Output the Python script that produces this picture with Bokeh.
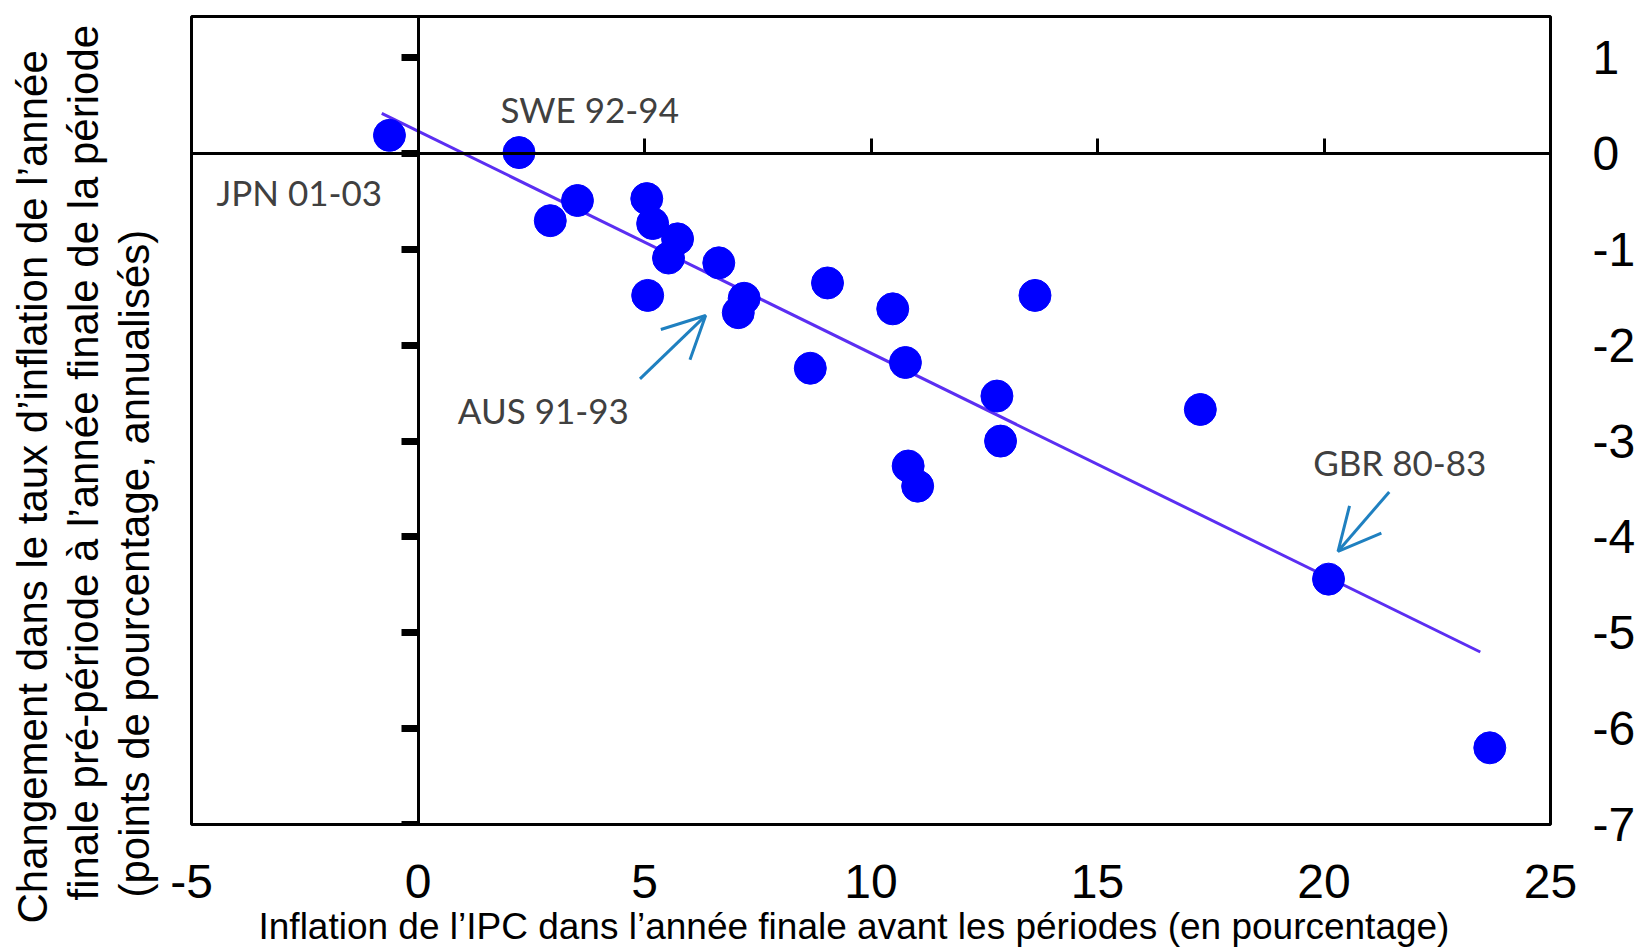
from bokeh.plotting import figure
from bokeh.models import LinearAxis, FixedTicker, Arrow, OpenHead, Title, ColumnDataSource, Range1d
from bokeh.core.properties import value
from bokeh.embed import file_html
from bokeh.resources import INLINE

# ---- data ----
x_infl = [-0.63, 2.23, 2.92, 3.52, 5.05, 5.18, 5.73, 5.53, 6.64, 5.07, 7.20, 7.07,
          9.04, 10.48, 8.66, 10.76, 13.62, 12.78, 12.86, 10.82, 11.03, 17.27, 20.10, 23.66]
y_change = [0.19, 0.01, -0.70, -0.49, -0.47, -0.73, -0.89, -1.09, -1.14, -1.48, -1.51, -1.66,
            -1.35, -1.62, -2.24, -2.18, -1.48, -2.53, -3.00, -3.26, -3.47, -2.67, -4.44, -6.20]
trend_x = [-0.80, 23.45]
trend_y = [0.42, -5.20]
x_ticks = [-5, 0, 5, 10, 15, 20, 25]
y_ticks = [1, 0, -1, -2, -3, -4, -5, -6, -7]
ann_text = ["SWE 92-94", "JPN 01-03", "AUS 91-93", "GBR 80-83"]
ann_x = [1.82, -4.45, 0.88, 19.76]
ann_y = [0.47, -0.40, -2.68, -3.22]
arrow_x0 = [4.90, 21.44]
arrow_y0 = [-2.35, -3.53]
arrow_x1 = [6.35, 20.31]
arrow_y1 = [-1.69, -4.15]
x_title = "Inflation de l\u2019IPC dans l\u2019ann\u00e9e finale avant les p\u00e9riodes (en pourcentage)"
y_title_lines = ["Changement dans le taux d\u2019inflation de l\u2019ann\u00e9e",
                 "finale pr\u00e9-p\u00e9riode \u00e0 l\u2019ann\u00e9e finale de la p\u00e9riode",
                 "(points de pourcentage, annualis\u00e9s)"]

ARIAL = "Liberation Sans"

p = figure(width=1640, height=949, x_range=Range1d(-5, 25), y_range=Range1d(-7, 1.43),
           output_backend="svg", toolbar_location=None, y_axis_location="right",
           min_border_left=191, min_border_right=90, min_border_top=16, min_border_bottom=125)
p.grid.visible = False
p.outline_line_color = "black"
p.outline_line_width = 3
p.background_fill_color = "white"
p.border_fill_color = "white"

# bottom axis: labels only
xa = p.xaxis[0]
xa.ticker = FixedTicker(ticks=x_ticks)
xa.major_label_overrides = {t: str(t) for t in x_ticks}
xa.axis_line_color = None
xa.major_tick_line_color = None
xa.major_tick_out = 0
xa.major_tick_in = 0
xa.minor_tick_line_color = None
xa.minor_tick_out = 0
xa.major_label_text_font = ARIAL
xa.major_label_text_font_size = "48px"
xa.major_label_text_color = "black"
xa.major_label_standoff = 40

# right axis: labels only
ya = p.yaxis[0]
ya.ticker = FixedTicker(ticks=y_ticks)
ya.major_label_overrides = {t: str(t) for t in y_ticks}
ya.axis_line_color = None
ya.major_tick_line_color = None
ya.major_tick_out = 0
ya.major_tick_in = 0
ya.minor_tick_line_color = None
ya.minor_tick_out = 0
ya.major_label_text_font = ARIAL
ya.major_label_text_font_size = "48px"
ya.major_label_text_color = "black"
ya.major_label_standoff = 42

# zero axes crossing inside the plot
x0_axis = LinearAxis(fixed_location=0, ticker=FixedTicker(ticks=x_ticks),
                     major_tick_in=15, major_tick_out=0, major_tick_line_width=3,
                     axis_line_width=3, minor_tick_line_color=None, minor_tick_out=0,
                     major_label_overrides={t: "" for t in x_ticks},
                     major_label_text_color=None, major_label_text_font_size="10px",
                     major_label_standoff=0)
p.add_layout(x0_axis, "below")
y0_axis = LinearAxis(fixed_location=0, ticker=FixedTicker(ticks=y_ticks),
                     major_tick_in=0, major_tick_out=17, major_tick_line_width=7,
                     axis_line_width=3, minor_tick_line_color=None, minor_tick_out=0,
                     major_label_overrides={t: "" for t in y_ticks},
                     major_label_text_color=None, major_label_text_font_size="10px",
                     major_label_standoff=0)
p.add_layout(y0_axis, "left")

# x title
p.add_layout(Title(text=x_title, align="left", offset=67, vertical_align="bottom",
                   text_font=ARIAL, text_font_size="37px", text_font_style="normal",
                   text_color="black", standoff=6), "below")

# blank spacer between the frame and the y title
p.add_layout(Title(text="\u00a0", text_color="white", text_font=ARIAL, text_font_size="20px",
                   standoff=9), "left")

# y title: three vertical lines (first added sits nearest the frame)
offsets = [-73, -76, -99]
for txt, off in zip(reversed(y_title_lines), offsets):
    p.add_layout(Title(text=txt, align="left", offset=off, text_font=ARIAL,
                       text_font_size="42px", text_font_style="normal", text_color="black",
                       standoff=2), "left")

# trend line and points
p.line(trend_x, trend_y, line_color="#5B2EF2", line_width=3)
src = ColumnDataSource(dict(x=x_infl, y=y_change))
p.scatter("x", "y", source=src, size=32, fill_color="#0000FF", line_color="#0000FF")

# annotations
asrc = ColumnDataSource(dict(x=ann_x, y=ann_y, t=ann_text))
p.text("x", "y", text="t", source=asrc, text_font=value("Lato"), text_font_size="35px",
       text_color="#404040", text_align="left", text_baseline="middle")
for xs, ys, xe, ye in zip(arrow_x0, arrow_y0, arrow_x1, arrow_y1):
    p.add_layout(Arrow(x_start=xs, y_start=ys, x_end=xe, y_end=ye,
                       line_color="#1F80C0", line_width=3,
                       end=OpenHead(size=42, line_color="#1F80C0", line_width=3)))

open("out.html", "w").write(file_html(p, INLINE))
